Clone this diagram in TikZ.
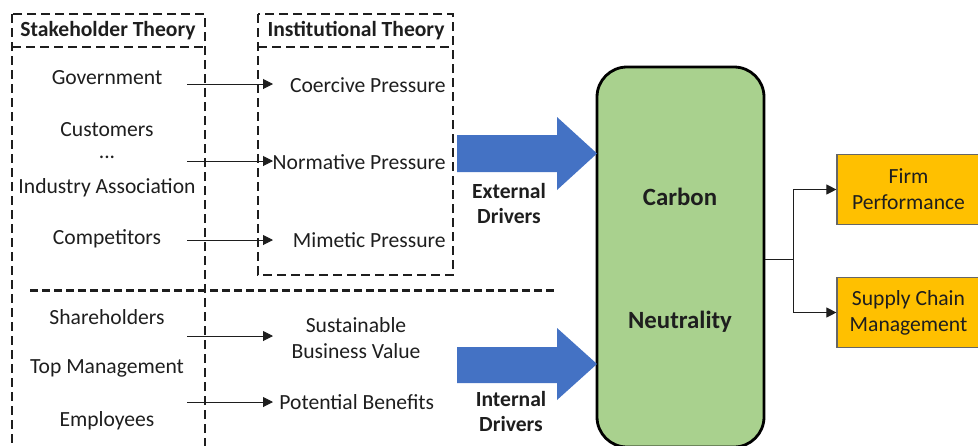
\documentclass[tikz,border=0pt]{standalone}
\usepackage{fontspec}
\setmainfont{Carlito}
\usetikzlibrary{arrows.meta}
\definecolor{txt}{HTML}{1E1E1E}
\definecolor{bluearr}{HTML}{4472C4}
\definecolor{greenbox}{HTML}{A9D18E}
\definecolor{orangebox}{HTML}{FFC000}
\begin{document}
\begin{tikzpicture}[x=0.5pt,y=-0.5pt,
  every node/.style={text=txt,font=\fontsize{10.8}{13}\selectfont},
  lbl/.style={inner sep=0pt,align=center},
  hdr/.style={inner sep=0pt,font=\fontsize{10.8}{13}\selectfont\bfseries},
  dbox/.style={draw=txt,line width=0.8pt,dash pattern=on 4.5pt off 2.5pt},
  sep/.style={draw=txt,line width=1.5pt,dash pattern=on 4pt off 2pt},
  arr/.style={draw=txt,line width=0.5pt,-{Triangle[length=5pt,width=5pt]}},
  blue/.style={fill=bluearr,draw=none},
  outbox/.style={draw=gray!80!black,line width=0.6pt,fill=orangebox,minimum width=71.5pt,minimum height=35pt,inner sep=0pt,align=center},
  big/.style={inner sep=0pt,font=\fontsize{12.4}{14}\selectfont\bfseries},
  drv/.style={inner sep=0pt,align=center,font=\fontsize{10.8}{12.5}\selectfont\bfseries}
]
\useasboundingbox (0,0) rectangle (978,445);

% Stakeholder Theory box
\draw[dbox] (12,14) rectangle (205,470);
\draw[dbox] (12,47) -- (205,47);
\node[hdr] (sth) at (108,31) {Stakeholder Theory};

% Institutional Theory box
\draw[dbox] (258,14) rectangle (453,275);
\draw[dbox] (258,47) -- (453,47);
\node[hdr] (ith) at (356,31) {Institutional Theory};

% separator
\coordinate (sepL) at (30,290);
\coordinate (sepR) at (557,290);
\draw[sep] (sepL) -- (sepR);

% stakeholders
\node[lbl] (gov) at (107,78) {Government};
\node[lbl] (cus) at (107,130) {Customers};
\node[lbl] (dots) at (107,157) {...};
\node[lbl] (ind) at (107,188) {Industry Association};
\node[lbl] (com) at (107,239) {Competitors};
\node[lbl] (sha) at (107,317) {Shareholders};
\node[lbl] (top) at (107,368) {Top Management};
\node[lbl] (emp) at (107,421) {Employees};

% pressures
\node[lbl,anchor=east] (coe) at (446,85) {Coercive Pressure};
\node[lbl,anchor=east] (nor) at (446,162) {Normative Pressure};
\node[lbl,anchor=east] (mim) at (446,240) {Mimetic Pressure};
\node[lbl] (sbv) at (356,338) {Sustainable\\Business Value};
\node[lbl,anchor=west] (pot) at (279,402) {Potential Benefits};

% arrow coordinates
\coordinate (a1s) at (187,84);  \coordinate (a1e) at (273,84);
\coordinate (a2s) at (187,161); \coordinate (a2e) at (273,161);
\coordinate (a3s) at (187,240); \coordinate (a3e) at (273,240);
\coordinate (a4s) at (187,336); \coordinate (a4e) at (273,336);
\coordinate (a5s) at (187,402); \coordinate (a5e) at (273,402);
\draw[arr] (a1s) -- (a1e);
\draw[arr] (a2s) -- (a2e);
\draw[arr] (a3s) -- (a3e);
\draw[arr] (a4s) -- (a4e);
\draw[arr] (a5s) -- (a5e);

% green box
\node[draw=black,line width=1.4pt,fill=greenbox,rounded corners=15pt,minimum width=83.5pt,minimum height=190pt,inner sep=0pt] (cn) at (680.5,257) {};
\node[big] (carbon) at (680,197) {Carbon};
\node[big] (neut) at (680,322) {Neutrality};

% blue arrows
\fill[blue] (457,135) -- (557,135) -- (557,117) -- (597,153.5) -- (557,190) -- (557,172) -- (457,172) -- cycle;
\fill[blue] (457,347) -- (557,347) -- (557,328) -- (597,364) -- (557,400) -- (557,383) -- (457,383) -- cycle;
\node[drv] (ext) at (509,203) {External\\Drivers};
\node[drv] (int) at (511,411) {Internal\\Drivers};

% outcome boxes
\node[outbox] (firm) at (908.5,189.5) {Firm\\Performance};
\node[outbox] (scm) at (908.5,312.5) {Supply Chain\\Management};

\coordinate (j) at (793,259);
\draw[draw=txt,line width=0.5pt] (cn.east |- j) -- (j);
\draw[arr] (j) |- (firm.west);
\draw[arr] (j) |- (scm.west);
\end{tikzpicture}
\end{document}
